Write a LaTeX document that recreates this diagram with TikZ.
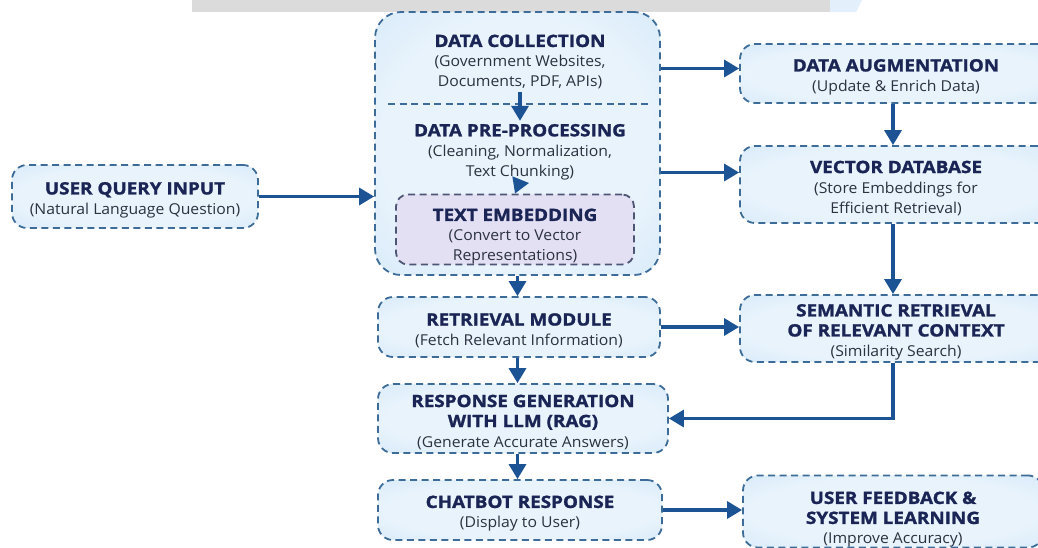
\documentclass[tikz,border=0pt]{standalone}
\usepackage{fontspec}
\setmainfont{Open Sans}[FakeStretch=1.05]
\newfontfamily\headfont{Open Sans}[FakeStretch=1.11, BoldFeatures={FakeBold=1.4}]
\usetikzlibrary{arrows.meta}

\definecolor{headnavy}{HTML}{1A2556}
\definecolor{subgrey}{HTML}{2C3240}
\definecolor{edgeblue}{HTML}{3D6C98}
\definecolor{flowblue}{HTML}{1C5394}
\definecolor{boxglow}{HTML}{C6E1F6}
\definecolor{boxcore}{HTML}{E8F3FC}
\definecolor{embedfill}{HTML}{E4E0F4}
\definecolor{embededge}{HTML}{4E5676}
\definecolor{barblue}{HTML}{E3F0FB}

\pgfdeclareradialshading{stageglow}{\pgfpoint{0bp}{0bp}}{color(0bp)=(boxcore); color(24bp)=(boxcore); color(50bp)=(boxglow); color(72bp)=(boxglow)}

% heading line; \hdtop also pushes the text block down a little in its box
\newcommand\hd[1]{{\headfont\fontsize{17}{21}\selectfont\bfseries\color{headnavy}#1}}
\newcommand\hdtop[2][19.5pt]{\hd{\rule{0pt}{#1}#2}}

\tikzset{
  card/.style={draw=edgeblue, line width=1.8pt, dash pattern=on 7pt off 4.5pt,
    rounded corners=15pt, align=center, inner sep=0pt,
    text=subgrey, font=\fontsize{15}{20}\selectfont},
  stage/.style={card, shading=stageglow},
  embedbox/.style={card, draw=embededge, fill=embedfill, rounded corners=12pt},
  note/.style={align=center, inner sep=0pt, text=subgrey, font=\fontsize{15}{20}\selectfont},
  flow/.style={-{Triangle[length=15pt,width=17pt]}, line width=3.2pt, draw=flowblue},
  divider/.style={draw=edgeblue, line width=1.3pt, dash pattern=on 7pt off 4.5pt},
}

\begin{document}
\begin{tikzpicture}[x=1pt,y=-1pt]
  \useasboundingbox (0,0) rectangle (1038,547);
  \fill[white] (0,0) rectangle (1038,547);

  % strip along the top edge
  \fill[black!14] (192,0) rectangle (830,12);
  \fill[barblue] (830,0) -- (862,0) -- (856,12) -- (830,12) -- cycle;

  % input
  \node[stage, minimum width=246pt, minimum height=63pt] (query) at (135,196.5)
    {\hdtop{USER QUERY INPUT}\\(Natural Language Question)};

  % ingestion group
  \node[stage, rounded corners=26pt, minimum width=285pt, minimum height=263pt] (group) at (517.5,143.5) {};
  \draw[divider] (388,104) -- (648,104);
  \node[note] (collect) at (520,62)
    {\hd{DATA COLLECTION}\\(Government Websites,\\Documents, PDF, APIs)};
  \node[note] (prep) at (520,152)
    {\hd{DATA PRE-PROCESSING}\\(Cleaning, Normalization,\\Text Chunking)};
  \node[embedbox, minimum width=238pt, minimum height=65pt] (embed) at (515,229.5)
    {\hdtop[26.5pt]{TEXT EMBEDDING}\\(Convert to Vector\\Representations)};

  % right column
  \node[stage, minimum width=312pt, minimum height=59pt] (augment) at (896,73.5)
    {\hdtop{DATA AUGMENTATION}\\(Update \& Enrich Data)};
  \node[stage, minimum width=312pt, minimum height=77pt] (vdb) at (896,184.5)
    {\hdtop{VECTOR DATABASE}\\(Store Embeddings for\\Efficient Retrieval)};
  \node[stage, minimum width=312pt, minimum height=67pt] (semantic) at (896,328.5)
    {\hdtop{SEMANTIC RETRIEVAL}\\\hd{OF RELEVANT CONTEXT}\\(Similarity Search)};
  \node[stage, minimum width=300pt, minimum height=67pt] (feedback) at (893,511.5)
    {\hdtop[28.5pt]{USER FEEDBACK \&}\\\hd{SYSTEM LEARNING}\\(Improve Accuracy)};

  % left column
  \node[stage, minimum width=282pt, minimum height=60pt] (retrieval) at (519,327)
    {\hdtop{RETRIEVAL MODULE}\\(Fetch Relevant Information)};
  \node[stage, minimum width=290pt, minimum height=69pt] (generate) at (523,418.5)
    {\hdtop{RESPONSE GENERATION}\\\hd{WITH LLM (RAG)}\\(Generate Accurate Answers)};
  \node[stage, minimum width=284pt, minimum height=60pt] (chatbot) at (520,510)
    {\hdtop{CHATBOT RESPONSE}\\(Display to User)};

  % arrows
  \draw[flow] (query.east) -- (query.east -| group.west);
  \draw[flow] ([yshift=-2pt]collect.south) -- ([yshift=3pt]prep.north);
  \draw[flow] ([yshift=-1pt]prep.south) -- (embed.north);
  \draw[flow] ([yshift=5pt]augment.west -| group.east) -- ([yshift=5pt]augment.west);
  \draw[flow] ([yshift=12pt]vdb.west -| group.east) -- ([yshift=12pt]vdb.west);
  \draw[flow] (augment.south -| 893,0) -- (vdb.north -| 893,0);
  \draw[flow] (vdb.south -| 893,0) -- (semantic.north -| 893,0);
  \draw[flow] (group.south) -- (retrieval.north -| group.south);
  \draw[flow] (retrieval.east) -- (retrieval.east -| semantic.west);
  \draw[flow] (retrieval.south -| group.south) -- (generate.north -| group.south);
  \draw[flow] (semantic.south -| 893,0) |- (generate.east);
  \draw[flow] (generate.south -| group.south) -- (chatbot.north -| group.south);
  \draw[flow] (chatbot.east) -- (chatbot.east -| feedback.west);
\end{tikzpicture}
\end{document}
